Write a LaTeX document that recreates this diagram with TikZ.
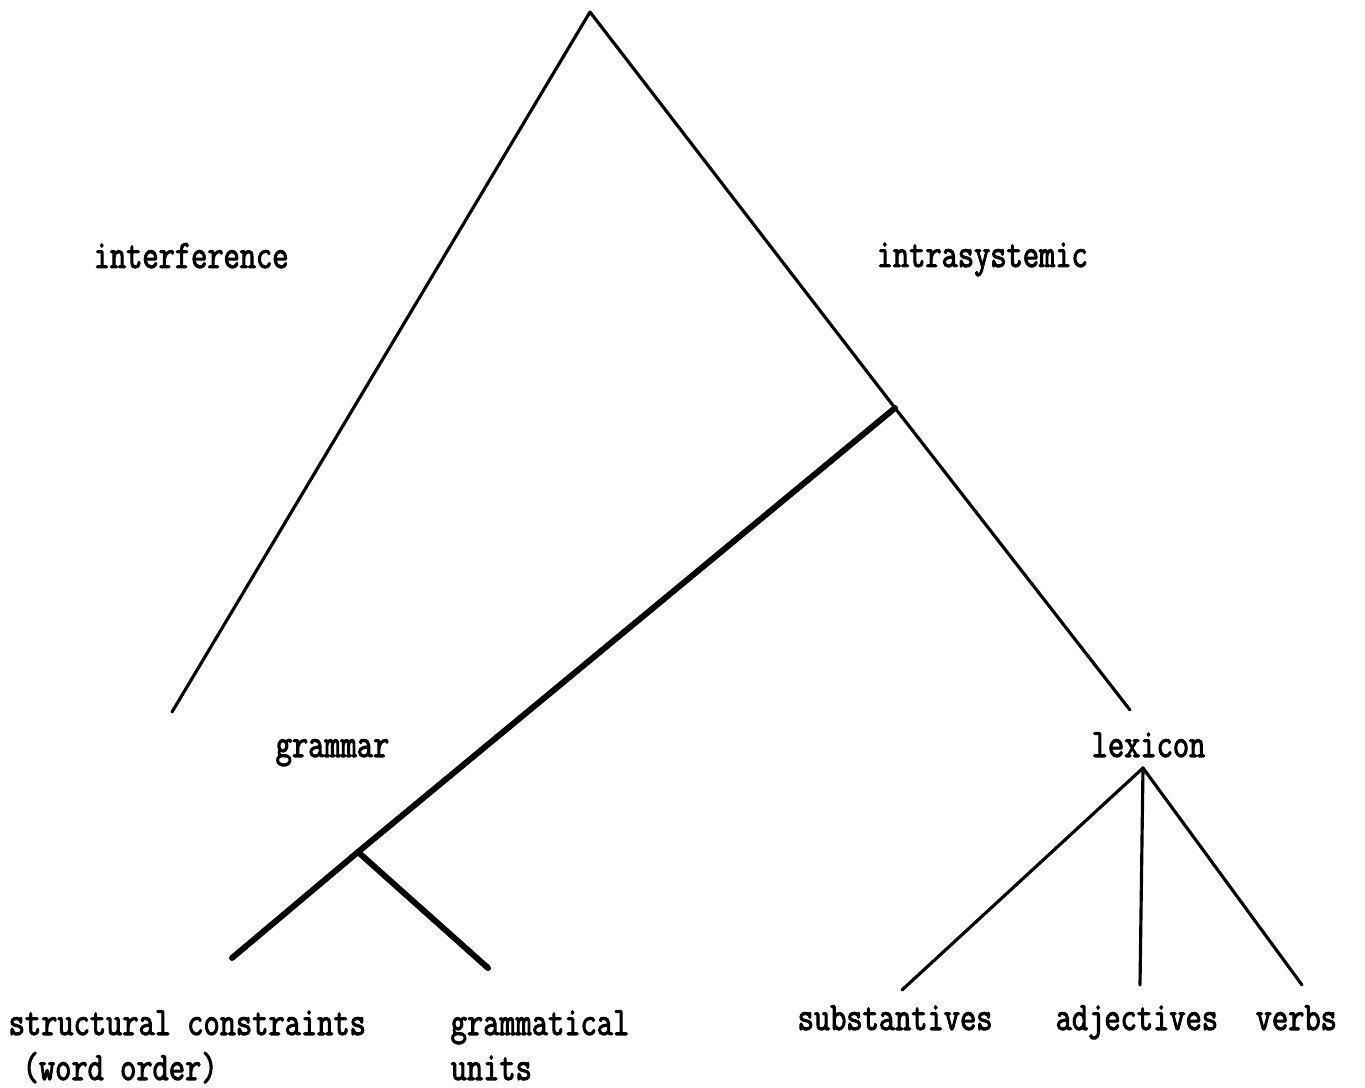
\documentclass[tikz,border=0pt]{standalone}
\usepackage{fontspec}
\newfontfamily\typewriter[FakeStretch=0.78,UprightFeatures={FakeBold=2.5}]{Latin Modern Mono}

\begin{document}
\begin{tikzpicture}[line cap=round,line join=round,
  branch/.style={line width=0.9pt},
  heavybranch/.style={line width=1.7pt},
  word/.style={anchor=base west,inner sep=0pt,font=\typewriter\fontsize{11.5}{13}\selectfont}]
  \useasboundingbox (0,0) rectangle (13.65,10.88);
  \coordinate (root) at (5.90,10.76);\coordinate (interf) at (1.72,3.76);
  \coordinate (intra) at (8.95,6.80);\coordinate (lexend) at (11.30,3.78);
  \coordinate (gram) at (3.58,2.36);\coordinate (structend) at (2.32,1.30);
  \coordinate (unitsend) at (4.88,1.20);
  \coordinate (lex) at (11.43,3.20);\coordinate (substend) at (9.02,0.98);
  \coordinate (adjend) at (11.40,1.03);\coordinate (verbsend) at (13.02,1.03);
  \draw[branch] (interf)--(root)--(intra)--(lexend);
  \draw[heavybranch] (intra)--(gram)--(structend);
  \draw[heavybranch] (gram)--(unitsend);
  \draw[branch] (substend)--(lex)--(verbsend);
  \draw[branch] (lex)--(adjend);
  \node[word] (interference) at (0.93,8.20) {interference};
  \node[word] (intrasystemic) at (8.76,8.21) {intrasystemic};
  \node[word] (grammar) at (2.75,3.31) {grammar};
  \node[word] (lexicon) at (10.91,3.31) {lexicon};
  \node[word] (structural) at (0.08,0.53) {structural constraints};
  \node[word] (wordorder) at (0.22,0.08) {(word order)};
  \node[word] (grammatical) at (4.50,0.53) {grammatical};
  \node[word] (units) at (4.50,0.08) {units};
  \node[word] (substantives) at (7.97,0.58) {substantives};
  \node[word] (adjectives) at (10.55,0.58) {adjectives};
  \node[word] (verbs) at (12.55,0.58) {verbs};
\end{tikzpicture}
\end{document}
